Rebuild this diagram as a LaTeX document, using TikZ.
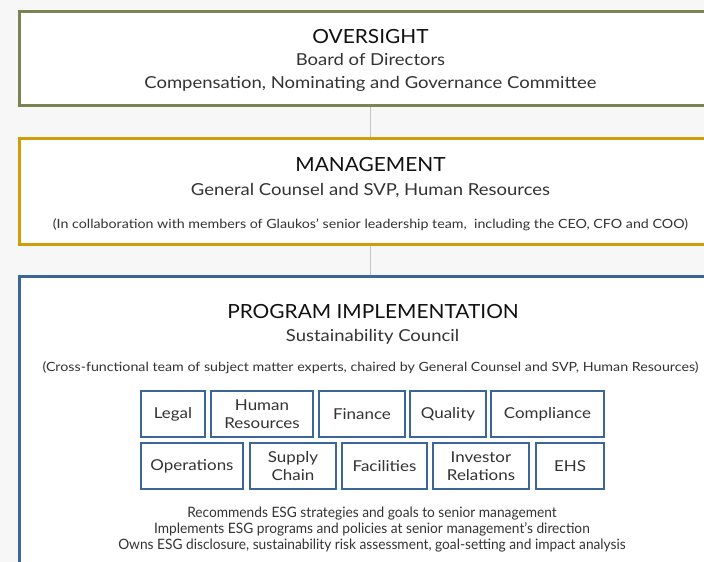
\documentclass[tikz,border=0pt]{standalone}
\usepackage{fontspec}
\setmainfont{Lato}
\newfontfamily\headfont[FakeStretch=1.07]{Lato}
\newfontfamily\subfont[FakeStretch=1.12]{Lato}
\newfontfamily\unitfont[FakeStretch=1.13]{Lato}
\newfontfamily\dutyfont[FakeStretch=0.96]{Lato}
\definecolor{olivebd}{HTML}{7A8452}
\definecolor{goldbd}{HTML}{CF9C0A}
\definecolor{bluebd}{HTML}{3A6698}
\definecolor{txt}{HTML}{333333}
\definecolor{headtxt}{HTML}{111111}
\definecolor{linkgray}{HTML}{C4C4C4}
\definecolor{bgc}{HTML}{F7F7F7}
\begin{document}
\begin{tikzpicture}[x=1pt,y=-1pt,
  tier/.style={draw, line width=3pt, fill=white, minimum width=703pt, inner sep=0pt},
  unit/.style={draw=bluebd, line width=2pt, fill=white, minimum height=46pt, inner sep=0pt, align=center, text=txt, font=\unitfont\fontsize{15}{17.5}\selectfont},
  head/.style={anchor=base, text=headtxt, inner sep=0pt, font=\headfont\fontsize{19.5}{22}\selectfont},
  sub/.style={anchor=base, text=txt, inner sep=0pt, font=\subfont\fontsize{16.5}{19}\selectfont},
  note/.style={anchor=base, text=txt, inner sep=0pt, font=\subfont\fontsize{12.7}{15}\selectfont},
  duty/.style={anchor=base, text=txt, inner sep=0pt, font=\dutyfont\fontsize{14.3}{16}\selectfont},
  link/.style={draw=linkgray, line width=1.5pt}]
\useasboundingbox (0,0) rectangle (704,562);
\clip (0,0) rectangle (704,562);
\fill[bgc] (0,0) rectangle (704,562);
% tiers
\node[tier, draw=olivebd, minimum height=94.5pt] (over) at (370.5,58.25) {};
\node[tier, draw=goldbd, minimum height=106pt] (mgmt) at (370.5,191) {};
\node[tier, draw=bluebd, minimum height=323pt] (prog) at (370.5,438) {};
\draw[link] (over.south) -- (mgmt.north);
\draw[link] (mgmt.south) -- (prog.north);
% oversight text
\node[head] (t1) at (370.5,43.3) {OVERSIGHT};
\node[sub] (t2) at (370.5,65.7) {Board of Directors};
\node[sub] (t3) at (370.5,88.3) {Compensation, Nominating and Governance Committee};
% management text
\node[head] (m1) at (370.5,171.7) {MANAGEMENT};
\node[sub] (m2) at (370.5,195.7) {General Counsel and SVP, Human Resources};
\node[note] (m3) at (370.5,228.3) {(In collaboration with members of Glaukos’ senior leadership team,\ \ including the CEO, CFO and COO)};
% program text
\node[head] (p1) at (373,318.3) {PROGRAM IMPLEMENTATION};
\node[sub] (p2) at (372.5,341) {Sustainability Council};
\node[note] (p3) at (370.5,371.7) {(Cross-functional team of subject matter experts, chaired by General Counsel and SVP, Human Resources)};
% units row 1
\node[unit, minimum width=64pt] (legal) at (173,414) {Legal};
\node[unit, minimum width=102pt] (hr) at (262,414) {Human\\Resources};
\node[unit, minimum width=86pt] (fin) at (362,414) {Finance};
\node[unit, minimum width=76pt] (qual) at (448,414) {Quality};
\node[unit, minimum width=113pt] (comp) at (547.5,414) {Compliance};
% units row 2
\node[unit, minimum width=102pt] (ops) at (192,466) {Operations};
\node[unit, minimum width=86pt] (supply) at (293,466) {Supply\\Chain};
\node[unit, minimum width=85pt] (fac) at (384.5,466) {Facilities};
\node[unit, minimum width=96pt] (inv) at (481,466) {Investor\\Relations};
\node[unit, minimum width=68pt] (ehs) at (570,466) {EHS};
% duties
\node[duty] (d1) at (372,517) {Recommends ESG strategies and goals to senior management};
\node[duty] (d2) at (372,533) {Implements ESG programs and policies at senior management’s direction};
\node[duty] (d3) at (372,549) {Owns ESG disclosure, sustainability risk assessment, goal-setting and impact analysis};
\end{tikzpicture}
\end{document}
